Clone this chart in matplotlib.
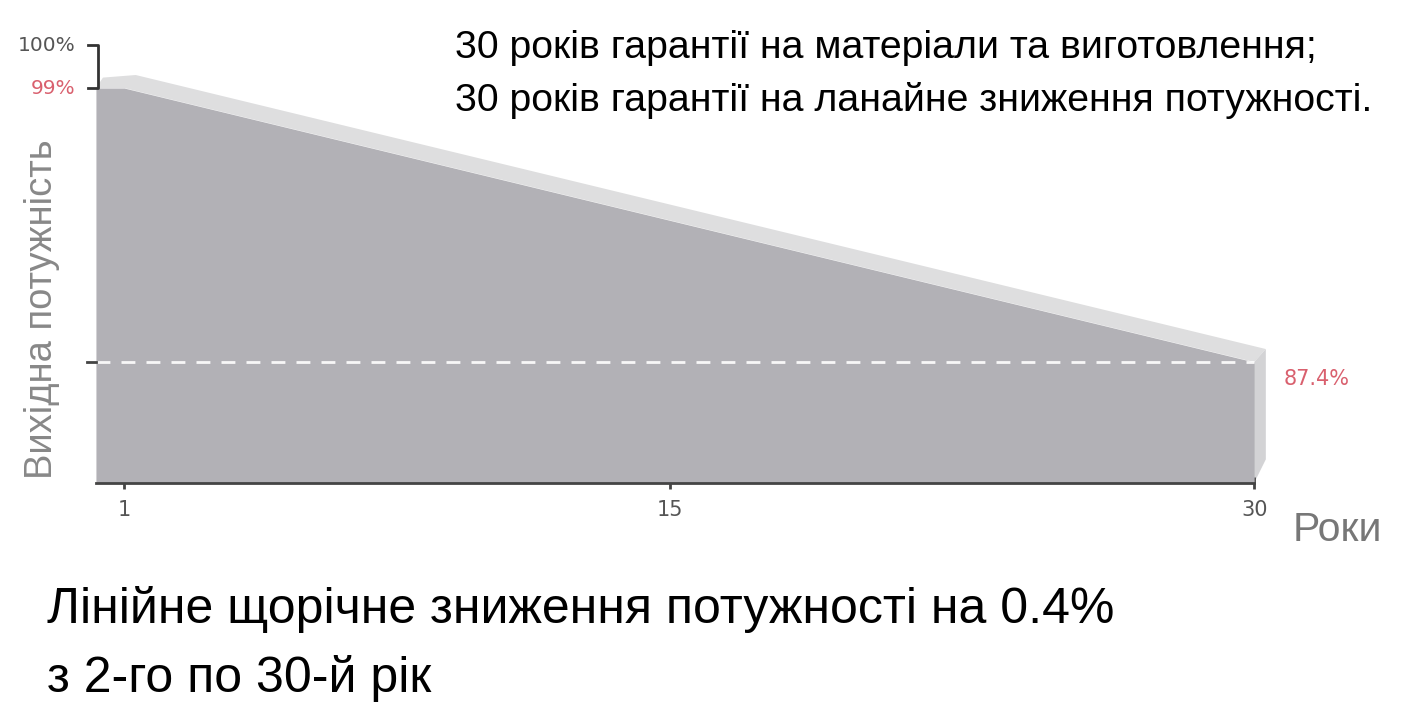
import numpy as np
import matplotlib.pyplot as plt

# Data: output power (%) over warranty years
years = [0.28, 1, 30]
power = [99.0, 99.0, 87.4]
x_ticks = [1, 15, 30]
x_ticklabels = ['1', '15', '30']
final_level = 87.4

fig = plt.figure(figsize=(14.1, 7.2), dpi=100)
ax = fig.add_axes([0.0603, 0.3292, 0.8568, 0.6306])
ax.set_xlim(0, 31)
ax.set_ylim(82.28, 101.5)

front = '#b2b1b6'
top = '#dededf'
side = '#d3d3d5'
ybot = 82.28

# 3D-ish offset of the back edge
dx, dy = 0.3, 0.55

# front face
ax.fill_between(years, power, ybot, color=front, lw=0, zorder=2)
# top face
tx = years + [years[-1] + dx, years[1] + dx, years[0] + dx * 0.6]
ty = power + [power[-1] + dy, power[1] + dy, power[0] + dy * 0.8]
ax.fill(tx, ty, color=top, lw=0, zorder=1)
# right face
ax.fill([years[-1], years[-1], years[-1] + dx, years[-1] + dx],
        [ybot, power[-1], power[-1] + dy, ybot + 1.0],
        color=side, lw=0, zorder=1)

# dashed line at final level
ax.plot([years[0], years[-1]], [final_level, final_level], color='white',
        lw=2, dashes=(5, 4), alpha=0.9, zorder=3)
# small left tick at final level
ax.plot([0.05, years[0]], [final_level, final_level], color='#444444', lw=2,
        clip_on=False, zorder=5)

for s in ['top', 'right', 'left']:
    ax.spines[s].set_visible(False)
ax.spines['bottom'].set_bounds(years[0], years[-1])
ax.spines['bottom'].set_color('#444444')
ax.spines['bottom'].set_linewidth(2)
ax.spines['bottom'].set_zorder(4)

ax.set_xticks(x_ticks)
ax.set_xticklabels(x_ticklabels, fontsize=15, color='#555555', family='DejaVu Sans')
ax.tick_params(axis='x', direction='inout', length=8, width=2, color='#444444', pad=8)
ax.set_yticks([])

# bracket between 100% and 99%
bx0, bx1 = 0.07, 0.33
ax.plot([bx0, bx1, bx1, bx0], [100.82, 100.82, 99.0, 99.0], color='#333333',
        lw=2, clip_on=False, zorder=5)
ax.text(-0.25, 100.82, '100%', ha='right', va='center', fontsize=14.5,
        color='#555555', family='DejaVu Sans')
ax.text(-0.25, 99.0, '99%', ha='right', va='center', fontsize=14.5,
        color='#d9606e', family='DejaVu Sans')
ax.text(30.75, 86.7, '87.4%', ha='left', va='center', fontsize=15,
        color='#d9606e', family='DejaVu Sans')

ax.text(31.0, 82.28 - 2.0, 'Роки', ha='left', va='center', fontsize=29.5,
        color='#777777', family='Liberation Sans')

fig.text(0.030, 0.57, 'Вихідна потужність', rotation=90, ha='center', va='center',
         fontsize=27.5, color='#888888', family='Liberation Sans')

fig.text(0.3227, 0.933, '30 років гарантії на матеріали та виготовлення;',
         ha='left', va='center', fontsize=28.3, color='black', family='Liberation Sans')
fig.text(0.3227, 0.861, '30 років гарантії на ланайне зниження потужності.',
         ha='left', va='center', fontsize=28.3, color='black', family='Liberation Sans')

fig.text(0.033, 0.153, 'Лінійне щорічне зниження потужності на 0.4%',
         ha='left', va='center', fontsize=36, color='black', family='Liberation Sans')
fig.text(0.033, 0.058, 'з 2-го по 30-й рік',
         ha='left', va='center', fontsize=36, color='black', family='Liberation Sans')

fig.savefig('out.png', dpi=100)
